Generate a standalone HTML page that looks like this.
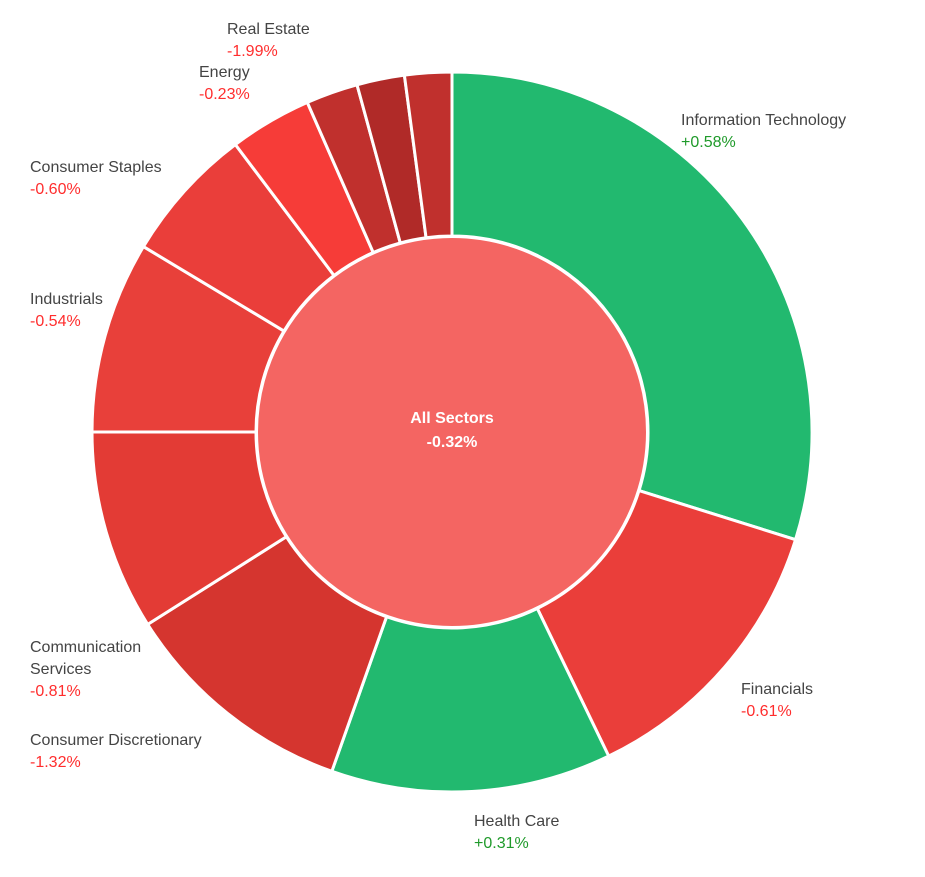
<!DOCTYPE html>
<html><head><meta charset="utf-8"><style>
body{margin:0;background:#fff;width:925px;height:877px;overflow:hidden;font-family:"Liberation Sans",sans-serif}
svg{position:absolute;left:0;top:0}
</style></head><body>
<svg id="chart" width="925" height="877"></svg>
<script>
const sectors=["Information Technology","Financials","Health Care","Consumer Discretionary","Communication Services","Industrials","Consumer Staples","Energy","Real Estate","Utilities","Materials"];
const weights=[107.4,46.8,45.3,38.2,32.3,31,22,13.3,8.4,7.7,7.6];
const changes=[0.58,-0.61,0.31,-1.32,-0.81,-0.54,-0.60,-0.23,-1.99,-0.5,-0.4];
const colors=["#22b96f","#ea3e3a","#22b96f","#d5352f","#e33b35","#e8403a","#ea3e3a","#f63c38","#c0302d","#b02a28","#c0302d"];
const labelLines=[["Information Technology"],["Financials"],["Health Care"],["Consumer Discretionary"],["Communication","Services"],["Industrials"],["Consumer Staples"],["Energy"],["Real Estate"],[],[]];
const labelPos=[[681,125],[741,694],[474,826],[30,745],[30,652],[30,304],[30,172],[199,77],[227,34],null,null];
const totalChange=-0.32;
const NS="http://www.w3.org/2000/svg";
const svg=document.getElementById("chart");
const cx=452,cy=432,R=360,r=196;
const total=weights.reduce((a,b)=>a+b,0);
function pt(a,rad){const t=(a-90)*Math.PI/180;return [cx+rad*Math.cos(t),cy+rad*Math.sin(t)];}
function fmt(v){return (v>0?"+":"")+v.toFixed(2)+"%";}
let a0=0;
weights.forEach((w,i)=>{
  const a1=a0+w/total*360;
  const p0=pt(a0,R),p1=pt(a1,R),q1=pt(a1,r),q0=pt(a0,r);
  const lg=(a1-a0)>180?1:0;
  const p=document.createElementNS(NS,"path");
  p.setAttribute("d",`M${p0[0]},${p0[1]}A${R},${R} 0 ${lg} 1 ${p1[0]},${p1[1]}L${q1[0]},${q1[1]}A${r},${r} 0 ${lg} 0 ${q0[0]},${q0[1]}Z`);
  p.setAttribute("fill",colors[i]);p.setAttribute("stroke","#fff");p.setAttribute("stroke-width","3");
  
  
  svg.appendChild(p);
  if(labelPos[i]){
    const g=document.createElementNS(NS,"g");
    
    
    let y=labelPos[i][1];
    labelLines[i].forEach(l=>{
      const t=document.createElementNS(NS,"text");
      t.setAttribute("x",labelPos[i][0]);t.setAttribute("y",y);
      t.setAttribute("font-size","16");t.setAttribute("fill","#444");t.textContent=l;g.appendChild(t);y+=22;
    });
    const v=document.createElementNS(NS,"text");
    v.setAttribute("x",labelPos[i][0]);v.setAttribute("y",y);
    v.setAttribute("font-size","16");v.setAttribute("fill",changes[i]>=0?"#1f9a2a":"#ff2d2d");
    v.textContent=fmt(changes[i]);g.appendChild(v);
    svg.appendChild(g);
  }
  a0=a1;
});
const c=document.createElementNS(NS,"circle");
c.setAttribute("cx",cx);c.setAttribute("cy",cy);c.setAttribute("r",r-1);
c.setAttribute("fill","#f46562");c.setAttribute("stroke","#fff");c.setAttribute("stroke-width","2");


svg.appendChild(c);
[["All Sectors",423],[fmt(totalChange),447]].forEach(([s,y])=>{
  const t=document.createElementNS(NS,"text");
  t.setAttribute("x",cx);t.setAttribute("y",y);t.setAttribute("text-anchor","middle");
  t.setAttribute("font-size","16");t.setAttribute("font-weight","bold");t.setAttribute("fill","#fff");
  t.textContent=s;
  
  
  svg.appendChild(t);
});
</script>
</body></html>
